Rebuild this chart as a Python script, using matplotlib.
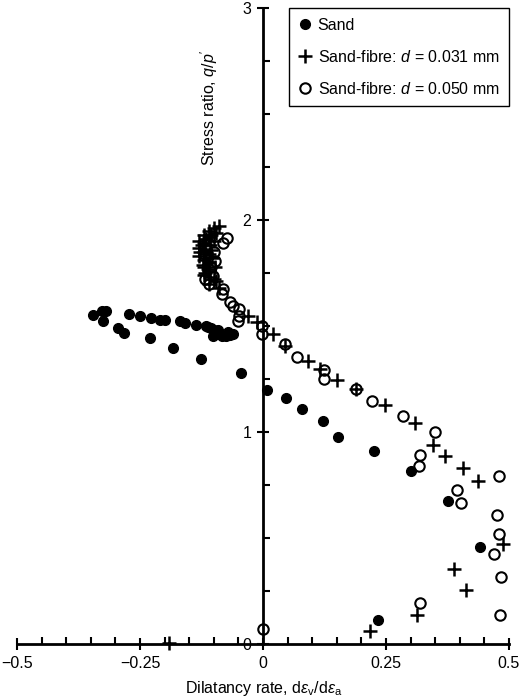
import matplotlib.pyplot as plt
from matplotlib.ticker import MultipleLocator
import numpy as np

plt.rcParams['font.family'] = ['Liberation Sans', 'DejaVu Sans']
plt.rcParams['mathtext.fontset'] = 'custom'
plt.rcParams['mathtext.rm'] = 'Liberation Sans'
plt.rcParams['mathtext.it'] = 'Liberation Sans:italic'
plt.rcParams['mathtext.fallback'] = 'cm'

# Sand (filled circles)
sand_x = [-0.346, -0.328, -0.319, -0.325, -0.294, -0.283, -0.272, -0.251, -0.228,
          -0.209, -0.199, -0.230, -0.182, -0.169, -0.159, -0.137, -0.126, -0.116,
          -0.106, -0.101, -0.091, -0.084, -0.067, -0.060, -0.045, 0.009, 0.047,
          0.079, 0.121, 0.152, 0.226, 0.300, 0.377, 0.442, 0.233,
          -0.112, -0.096, -0.088, -0.076, -0.072, -0.100]
sand_y = [1.552, 1.569, 1.570, 1.525, 1.490, 1.467, 1.557, 1.546, 1.538,
          1.530, 1.530, 1.442, 1.395, 1.522, 1.513, 1.506, 1.344, 1.501,
          1.489, 1.454, 1.483, 1.451, 1.458, 1.462, 1.278, 1.200, 1.159,
          1.108, 1.052, 0.978, 0.912, 0.815, 0.676, 0.456, 0.115,
          1.495, 1.470, 1.462, 1.455, 1.470, 1.480]

# Sand-fibre d = 0.031 mm (plus)
f31_x = [-0.09, -0.10, -0.11, -0.12, -0.11, -0.13, -0.12, -0.13, -0.12, -0.11,
         -0.13, -0.12, -0.11, -0.12, -0.11, -0.12, -0.10, -0.11, -0.09,
         -0.030, -0.013, 0.021, 0.045, 0.092, 0.116, 0.151, 0.189, 0.248,
         0.309, 0.346, 0.370, 0.407, 0.436, 0.487, 0.388, 0.413, 0.314,
         0.217, -0.192,
         -0.095, -0.105, -0.115, -0.125, -0.118, -0.108, -0.128, -0.115, -0.105,
         -0.122, -0.112, -0.100, -0.118, -0.108, -0.098, -0.104, -0.115, -0.095]
f31_y = [1.97, 1.96, 1.95, 1.93, 1.92, 1.90, 1.89, 1.87, 1.85, 1.84,
         1.83, 1.81, 1.80, 1.78, 1.76, 1.74, 1.72, 1.70, 1.68,
         1.549, 1.517, 1.462, 1.407, 1.336, 1.297, 1.245, 1.203, 1.127,
         1.042, 0.940, 0.888, 0.829, 0.767, 0.472, 0.354, 0.256, 0.137,
         0.063, 0.005,
         1.94, 1.93, 1.91, 1.88, 1.86, 1.88, 1.85, 1.82, 1.86,
         1.79, 1.77, 1.90, 1.75, 1.73, 1.78, 1.82, 1.84, 1.71]

# Sand-fibre d = 0.050 mm (open circles)
f50_x = [-0.074, -0.081, -0.100, -0.098, -0.105, -0.101, -0.118, -0.110, -0.081,
         -0.084, -0.067, -0.060, -0.048, -0.048, -0.050, -0.003, -0.003, 0.045,
         0.070, 0.124, 0.124, 0.189, 0.221, 0.285, 0.350, 0.320, 0.318, 0.480,
         0.395, 0.402, 0.475, 0.480, 0.470, 0.483, 0.482, 0.319, -0.001]
f50_y = [1.915, 1.890, 1.850, 1.808, 1.780, 1.737, 1.720, 1.700, 1.675,
         1.651, 1.611, 1.596, 1.580, 1.549, 1.525, 1.501, 1.462, 1.415,
         1.352, 1.292, 1.250, 1.203, 1.145, 1.077, 0.999, 0.893, 0.841, 0.794,
         0.728, 0.665, 0.608, 0.519, 0.425, 0.315, 0.137, 0.193, 0.071]

fig = plt.figure(figsize=(5.2, 6.99), dpi=100)
ax = fig.add_axes([17 / 520, 55 / 699, 492 / 520, 636 / 699])

ax.plot(sand_x, sand_y, 'o', color='black', ms=7, clip_on=False, label='Sand')
ax.plot(f31_x, f31_y, '+', color='black', ms=9.5, mew=1.8, clip_on=False,
        label=r'Sand-fibre: $\mathit{d}$ = 0.031 mm')
ax.plot(f50_x, f50_y, 'o', mfc='none', mec='black', ms=7.5, mew=1.5, clip_on=False,
        label=r'Sand-fibre: $\mathit{d}$ = 0.050 mm')

ax.set_xlim(-0.5, 0.5)
ax.set_ylim(0, 3)
ax.spines['left'].set_position(('data', 0))
ax.spines['bottom'].set_position(('data', 0))
ax.spines['top'].set_visible(False)
ax.spines['right'].set_visible(False)
for s in ('left', 'bottom'):
    ax.spines[s].set_linewidth(2.0)

ax.xaxis.set_minor_locator(MultipleLocator(0.05))
ax.yaxis.set_minor_locator(MultipleLocator(0.25))
ax.set_xticks([-0.5, -0.25, 0, 0.25, 0.5])
ax.set_xticklabels(['\u22120.5', '\u22120.25', '0', '0.25', '0.5'])
ax.set_yticks([0, 1, 2, 3])
ax.set_yticklabels(['0', '1', '2', '3'])
ax.tick_params(which='major', direction='inout', length=9, width=1.5, labelsize=11.5)
ax.tick_params(which='minor', direction='in', length=5, width=1.5)
ax.tick_params(axis='both', which='major', pad=4)

fig.text(209 / 520, 1 - 108 / 699, r"Stress ratio, $\mathit{q/p'}$", rotation=90,
         ha='center', va='center', fontsize=11.5)
fig.text(264 / 520, 1 - 688 / 699,
         r'Dilatancy rate, d$\mathit{\varepsilon}_\mathrm{v}$/d$\mathit{\varepsilon}_\mathrm{a}$',
         ha='center', va='center', fontsize=11.5)

leg = ax.legend(loc='upper right', bbox_to_anchor=(517 / 520, 1.0),
                bbox_transform=fig.transFigure, fontsize=11.5, frameon=True,
                fancybox=False, edgecolor='black', framealpha=1, labelspacing=1.0,
                handlelength=0.8, handletextpad=0.4, borderpad=0.6)
leg.get_frame().set_linewidth(1.0)

fig.savefig('out.png', dpi=100)
